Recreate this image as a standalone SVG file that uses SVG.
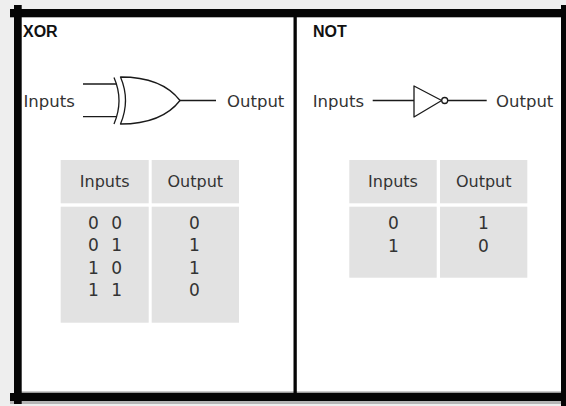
<svg xmlns="http://www.w3.org/2000/svg" width="566" height="406" viewBox="0 0 566 406">
<style>
.bar{fill:#050505}
.title{font-family:"Liberation Sans",Arial,sans-serif;font-weight:bold;font-size:16px;fill:#111}
.lbl{font-family:"DejaVu Sans","Liberation Sans",sans-serif;font-size:16.5px;fill:#333}
.hdr{font-family:"DejaVu Sans","Liberation Sans",sans-serif;font-size:16px;fill:#333;text-anchor:middle}
.dig{font-family:"DejaVu Sans","Liberation Sans",sans-serif;font-size:17px;fill:#333;text-anchor:middle}
.cell{fill:#e2e2e2}
.wire{fill:none;stroke:#1a1a1a;stroke-width:1.3}
.gate{fill:#fff;stroke:#1a1a1a;stroke-width:1.3;stroke-linejoin:round}
</style>
<rect x="0" y="0" width="566" height="406" fill="#eeeeee"/>
<g id="frame">
<rect x="21" y="17" width="540" height="376" fill="#ffffff"/>
<rect x="21" y="391.5" width="540" height="1.5" fill="#9a9a9a"/>
<rect x="10" y="401" width="556" height="3" fill="#b5b5b5"/>
<rect class="bar" x="10" y="9" width="551" height="8.3"/>
<rect class="bar" x="14" y="5" width="7.7" height="399"/>
<rect class="bar" x="10" y="393" width="556" height="8"/>
<rect class="bar" x="561" y="5" width="5" height="401"/>
<rect class="bar" x="293.5" y="17" width="3.3" height="376"/>
</g>
<g id="xor-panel">
<text class="title" x="23" y="37">XOR</text>
<g id="xor-gate">
<path class="gate" d="M114,77.5 Q124,100.5 114,124"/>
<path class="gate" d="M120.5,77 C150,77 168,85 180,100.5 C168,116 150,124 120.5,124 Q130.5,100.5 120.5,77 Z"/>
</g>
<text class="lbl" x="23.5" y="106.5">Inputs</text>
<text class="lbl" x="227" y="106.5">Output</text>
<g id="xor-table">
<rect class="cell" x="60.7" y="160" width="88" height="43.3"/>
<rect class="cell" x="151.7" y="160" width="87.3" height="43.3"/>
<rect class="cell" x="60.7" y="206.7" width="88" height="116"/>
<rect class="cell" x="151.7" y="206.7" width="87.3" height="116"/>
<text class="hdr" x="104.7" y="187.3">Inputs</text>
<text class="hdr" x="195.3" y="187.3">Output</text>
<text class="dig" x="93.3 116.7" y="228.5">00</text>
<text class="dig" x="93.3 116.7" y="251.1">01</text>
<text class="dig" x="93.3 116.7" y="273.7">10</text>
<text class="dig" x="93.3 116.7" y="296.3">11</text>
<text class="dig" x="194.5" y="228.5">0</text>
<text class="dig" x="194.5" y="251.1">1</text>
<text class="dig" x="194.5" y="273.7">1</text>
<text class="dig" x="194.5" y="296.3">0</text>
</g>
</g>
<g id="not-panel">
<text class="title" x="313" y="37">NOT</text>
<g id="not-gate">
<path class="gate" d="M414,86 L441.7,100.5 L414,117 Z"/>
<circle class="gate" cx="444.7" cy="100.5" r="3"/>
</g>
<text class="lbl" x="312.7" y="106.5">Inputs</text>
<text class="lbl" x="496" y="106.5">Output</text>
<g id="not-table">
<rect class="cell" x="349.3" y="160" width="87.4" height="43.3"/>
<rect class="cell" x="440" y="160" width="87.3" height="43.3"/>
<rect class="cell" x="349.3" y="206.7" width="87.4" height="71"/>
<rect class="cell" x="440" y="206.7" width="87.3" height="71"/>
<text class="hdr" x="393" y="187.3">Inputs</text>
<text class="hdr" x="483.7" y="187.3">Output</text>
<text class="dig" x="393.5" y="229">0</text>
<text class="dig" x="393.5" y="251.7">1</text>
<text class="dig" x="483.5" y="229">1</text>
<text class="dig" x="483.5" y="251.7">0</text>
</g>
</g>
<g id="connectors">
<path class="wire" d="M83,84 H116.3"/>
<path class="wire" d="M83,116.7 H116.3"/>
<path class="wire" d="M180,100.5 H216"/>
<path class="wire" d="M372.7,100.5 H414"/>
<path class="wire" d="M447.7,100.5 H486.7"/>
</g>
</svg>
